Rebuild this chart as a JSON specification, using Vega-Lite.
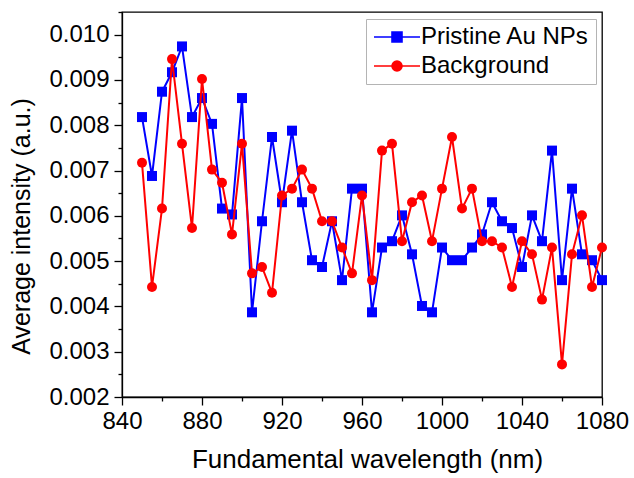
{
  "$schema": "https://vega.github.io/schema/vega-lite/v6.json",
  "width": 480,
  "height": 385,
  "autosize": {"type": "none"},
  "padding": {"left": 122, "top": 12, "right": 32, "bottom": 81},
  "background": "white",
  "config": {
    "font": "Liberation Sans",
    "view": {"stroke": "#000000", "strokeWidth": 1.3},
    "axis": {
      "grid": false,
      "domainColor": "#000000",
      "domainWidth": 1.3,
      "tickColor": "#000000",
      "tickWidth": 1.3,
      "labelColor": "#000000",
      "titleColor": "#000000",
      "labelFont": "Liberation Sans",
      "titleFont": "Liberation Sans",
      "titleFontWeight": "normal",
      "labelOverlap": false,
      "labelFlush": false,
      "labelBound": false
    }
  },
  "data": {
    "values": [
      {"series": "Pristine Au NPs", "wavelength": 850, "intensity": 0.00818},
      {"series": "Pristine Au NPs", "wavelength": 855, "intensity": 0.00688},
      {"series": "Pristine Au NPs", "wavelength": 860, "intensity": 0.00874},
      {"series": "Pristine Au NPs", "wavelength": 865, "intensity": 0.00917},
      {"series": "Pristine Au NPs", "wavelength": 870, "intensity": 0.00974},
      {"series": "Pristine Au NPs", "wavelength": 875, "intensity": 0.00818},
      {"series": "Pristine Au NPs", "wavelength": 880, "intensity": 0.00860},
      {"series": "Pristine Au NPs", "wavelength": 885, "intensity": 0.00803},
      {"series": "Pristine Au NPs", "wavelength": 890, "intensity": 0.00616},
      {"series": "Pristine Au NPs", "wavelength": 895, "intensity": 0.00603},
      {"series": "Pristine Au NPs", "wavelength": 900, "intensity": 0.00860},
      {"series": "Pristine Au NPs", "wavelength": 905, "intensity": 0.00387},
      {"series": "Pristine Au NPs", "wavelength": 910, "intensity": 0.00588},
      {"series": "Pristine Au NPs", "wavelength": 915, "intensity": 0.00774},
      {"series": "Pristine Au NPs", "wavelength": 920, "intensity": 0.00630},
      {"series": "Pristine Au NPs", "wavelength": 925, "intensity": 0.00788},
      {"series": "Pristine Au NPs", "wavelength": 930, "intensity": 0.00630},
      {"series": "Pristine Au NPs", "wavelength": 935, "intensity": 0.00502},
      {"series": "Pristine Au NPs", "wavelength": 940, "intensity": 0.00487},
      {"series": "Pristine Au NPs", "wavelength": 945, "intensity": 0.00588},
      {"series": "Pristine Au NPs", "wavelength": 950, "intensity": 0.00458},
      {"series": "Pristine Au NPs", "wavelength": 955, "intensity": 0.00660},
      {"series": "Pristine Au NPs", "wavelength": 960, "intensity": 0.00660},
      {"series": "Pristine Au NPs", "wavelength": 965, "intensity": 0.00387},
      {"series": "Pristine Au NPs", "wavelength": 970, "intensity": 0.00530},
      {"series": "Pristine Au NPs", "wavelength": 975, "intensity": 0.00544},
      {"series": "Pristine Au NPs", "wavelength": 980, "intensity": 0.00601},
      {"series": "Pristine Au NPs", "wavelength": 985, "intensity": 0.00515},
      {"series": "Pristine Au NPs", "wavelength": 990, "intensity": 0.00401},
      {"series": "Pristine Au NPs", "wavelength": 995, "intensity": 0.00387},
      {"series": "Pristine Au NPs", "wavelength": 1000, "intensity": 0.00530},
      {"series": "Pristine Au NPs", "wavelength": 1005, "intensity": 0.00502},
      {"series": "Pristine Au NPs", "wavelength": 1010, "intensity": 0.00502},
      {"series": "Pristine Au NPs", "wavelength": 1015, "intensity": 0.00530},
      {"series": "Pristine Au NPs", "wavelength": 1020, "intensity": 0.00559},
      {"series": "Pristine Au NPs", "wavelength": 1025, "intensity": 0.00630},
      {"series": "Pristine Au NPs", "wavelength": 1030, "intensity": 0.00588},
      {"series": "Pristine Au NPs", "wavelength": 1035, "intensity": 0.00573},
      {"series": "Pristine Au NPs", "wavelength": 1040, "intensity": 0.00487},
      {"series": "Pristine Au NPs", "wavelength": 1045, "intensity": 0.00601},
      {"series": "Pristine Au NPs", "wavelength": 1050, "intensity": 0.00544},
      {"series": "Pristine Au NPs", "wavelength": 1055, "intensity": 0.00744},
      {"series": "Pristine Au NPs", "wavelength": 1060, "intensity": 0.00458},
      {"series": "Pristine Au NPs", "wavelength": 1065, "intensity": 0.00660},
      {"series": "Pristine Au NPs", "wavelength": 1070, "intensity": 0.00515},
      {"series": "Pristine Au NPs", "wavelength": 1075, "intensity": 0.00502},
      {"series": "Pristine Au NPs", "wavelength": 1080, "intensity": 0.00458},
      {"series": "Background", "wavelength": 850, "intensity": 0.00717},
      {"series": "Background", "wavelength": 855, "intensity": 0.00443},
      {"series": "Background", "wavelength": 860, "intensity": 0.00616},
      {"series": "Background", "wavelength": 865, "intensity": 0.00946},
      {"series": "Background", "wavelength": 870, "intensity": 0.00759},
      {"series": "Background", "wavelength": 875, "intensity": 0.00573},
      {"series": "Background", "wavelength": 880, "intensity": 0.00902},
      {"series": "Background", "wavelength": 885, "intensity": 0.00702},
      {"series": "Background", "wavelength": 890, "intensity": 0.00673},
      {"series": "Background", "wavelength": 895, "intensity": 0.00559},
      {"series": "Background", "wavelength": 900, "intensity": 0.00759},
      {"series": "Background", "wavelength": 905, "intensity": 0.00473},
      {"series": "Background", "wavelength": 910, "intensity": 0.00487},
      {"series": "Background", "wavelength": 915, "intensity": 0.00430},
      {"series": "Background", "wavelength": 920, "intensity": 0.00645},
      {"series": "Background", "wavelength": 925, "intensity": 0.00660},
      {"series": "Background", "wavelength": 930, "intensity": 0.00702},
      {"series": "Background", "wavelength": 935, "intensity": 0.00660},
      {"series": "Background", "wavelength": 940, "intensity": 0.00588},
      {"series": "Background", "wavelength": 945, "intensity": 0.00588},
      {"series": "Background", "wavelength": 950, "intensity": 0.00530},
      {"series": "Background", "wavelength": 955, "intensity": 0.00473},
      {"series": "Background", "wavelength": 960, "intensity": 0.00645},
      {"series": "Background", "wavelength": 965, "intensity": 0.00458},
      {"series": "Background", "wavelength": 970, "intensity": 0.00744},
      {"series": "Background", "wavelength": 975, "intensity": 0.00759},
      {"series": "Background", "wavelength": 980, "intensity": 0.00544},
      {"series": "Background", "wavelength": 985, "intensity": 0.00630},
      {"series": "Background", "wavelength": 990, "intensity": 0.00645},
      {"series": "Background", "wavelength": 995, "intensity": 0.00544},
      {"series": "Background", "wavelength": 1000, "intensity": 0.00660},
      {"series": "Background", "wavelength": 1005, "intensity": 0.00774},
      {"series": "Background", "wavelength": 1010, "intensity": 0.00616},
      {"series": "Background", "wavelength": 1015, "intensity": 0.00660},
      {"series": "Background", "wavelength": 1020, "intensity": 0.00544},
      {"series": "Background", "wavelength": 1025, "intensity": 0.00544},
      {"series": "Background", "wavelength": 1030, "intensity": 0.00530},
      {"series": "Background", "wavelength": 1035, "intensity": 0.00443},
      {"series": "Background", "wavelength": 1040, "intensity": 0.00544},
      {"series": "Background", "wavelength": 1045, "intensity": 0.00515},
      {"series": "Background", "wavelength": 1050, "intensity": 0.00415},
      {"series": "Background", "wavelength": 1055, "intensity": 0.00530},
      {"series": "Background", "wavelength": 1060, "intensity": 0.00272},
      {"series": "Background", "wavelength": 1065, "intensity": 0.00515},
      {"series": "Background", "wavelength": 1070, "intensity": 0.00601},
      {"series": "Background", "wavelength": 1075, "intensity": 0.00443},
      {"series": "Background", "wavelength": 1080, "intensity": 0.00530}
    ]
  },
  "layer": [
    {
      "transform": [{"filter": "datum.series === 'Pristine Au NPs'"}],
      "mark": {"type": "line", "strokeWidth": 2},
      "encoding": {
        "x": {
          "field": "wavelength", "type": "quantitative",
          "scale": {"domain": [840, 1080], "nice": false, "zero": false},
          "axis": {
            "orient": "bottom",
            "values": [840, 880, 920, 960, 1000, 1040, 1080],
            "format": "d",
            "labelFontSize": 24,
            "labelPadding": 4,
            "tickSize": 8,
            "title": "Fundamental wavelength (nm)",
            "titleFontSize": 26,
            "titlePadding": 13,
            "titleX": 245
          }
        },
        "y": {
          "field": "intensity", "type": "quantitative",
          "scale": {"domain": [0.002, 0.0105], "nice": false, "zero": false},
          "axis": {
            "orient": "left",
            "values": [0.002, 0.003, 0.004, 0.005, 0.006, 0.007, 0.008, 0.009, 0.010],
            "format": ".3f",
            "labelFontSize": 24,
            "labelPadding": 5,
            "tickSize": 8,
            "title": "Average intensity (a.u.)",
            "titleFontSize": 25,
            "titlePadding": 14,
            "titleY": 214
          }
        },
        "color": {
          "field": "series", "type": "nominal",
          "scale": {"domain": ["Pristine Au NPs", "Background"], "range": ["#0000ff", "#ff0000"]}
        }
      }
    },
    {
      "transform": [{"filter": "datum.series === 'Pristine Au NPs'"}],
      "mark": {"type": "point", "shape": "square", "filled": true, "opacity": 1, "size": 100},
      "encoding": {
        "x": {
          "field": "wavelength", "type": "quantitative",
          "axis": {
            "orient": "bottom",
            "values": [860, 900, 940, 980, 1020, 1060],
            "labels": false, "domain": false, "tickSize": 4, "title": null
          }
        },
        "y": {
          "field": "intensity", "type": "quantitative",
          "axis": {
            "orient": "left",
            "values": [0.0025, 0.0035, 0.0045, 0.0055, 0.0065, 0.0075, 0.0085, 0.0095, 0.0105],
            "labels": false, "domain": false, "tickSize": 4, "title": null
          }
        },
        "color": {
          "field": "series", "type": "nominal",
          "legend": {
            "orient": "none",
            "legendX": 244,
            "legendY": 7,
            "title": null,
            "padding": 6,
            "strokeColor": "#b4b4b4",
            "fillColor": "#ffffff",
            "labelFontSize": 24,
            "labelLimit": 400,
            "labelColor": "#000000",
            "labelFont": "Liberation Sans",
            "symbolSize": 400,
            "symbolOffset": 13,
            "labelOffset": 12,
            "rowPadding": 5,
            "symbolStrokeWidth": 1.6,
            "symbolOpacity": 1,
            "encode": {
              "symbols": {
                "update": {
                  "shape": {"signal": "datum.value === 'Background' ? 'M-2.3,0H2.3M-0.5,0A0.5,0.5 0 1,1 0.5,0A0.5,0.5 0 1,1 -0.5,0Z' : 'M-2.3,0H2.3M-0.5,-0.5H0.5V0.5H-0.5Z'"},
                  "stroke": {"signal": "datum.value === 'Background' ? '#ff0000' : '#0000ff'"},
                  "strokeWidth": {"value": 1.6},
                  "opacity": {"value": 1}
                }
              }
            }
          }
        }
      }
    },
    {
      "transform": [{"filter": "datum.series === 'Background'"}],
      "mark": {"type": "line", "strokeWidth": 2},
      "encoding": {
        "x": {"field": "wavelength", "type": "quantitative", "axis": null},
        "y": {"field": "intensity", "type": "quantitative", "axis": null},
        "color": {"field": "series", "type": "nominal"}
      }
    },
    {
      "transform": [{"filter": "datum.series === 'Background'"}],
      "mark": {"type": "point", "shape": "circle", "filled": true, "opacity": 1, "size": 100},
      "encoding": {
        "x": {"field": "wavelength", "type": "quantitative", "axis": null},
        "y": {"field": "intensity", "type": "quantitative", "axis": null},
        "color": {"field": "series", "type": "nominal"}
      }
    }
  ],
  "resolve": {"axis": {"x": "independent", "y": "independent"}}
}
